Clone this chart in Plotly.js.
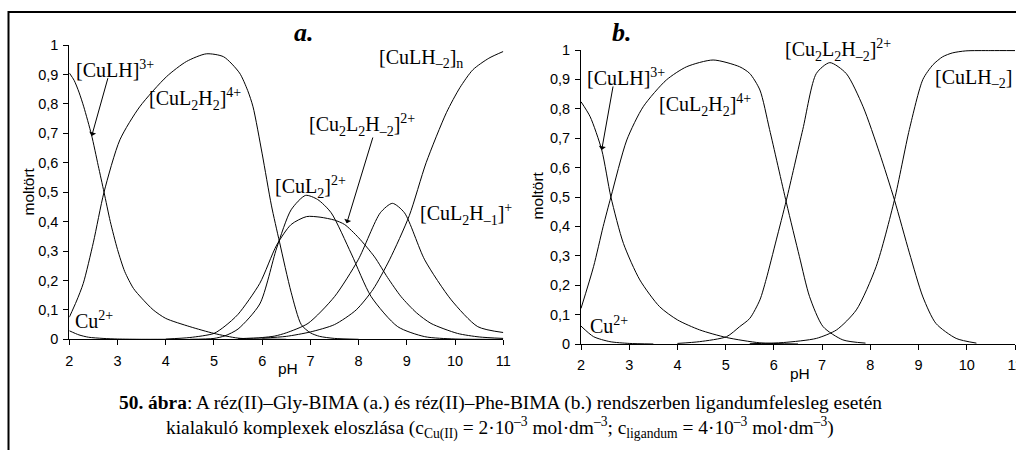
<!DOCTYPE html>
<html>
<head>
<meta charset="utf-8">
<script src="https://cdn.plot.ly/plotly-3.0.1.min.js"></script>
<style>html,body{margin:0;padding:0;background:#fff;}#chart{width:1016px;height:450px;}</style>
</head>
<body>
<div id="chart"></div>
<script>
// ---------- data (a) réz(II)–Gly-BIMA ----------
const aCu_pH = [2, 2.2, 2.4, 2.7, 3.0, 3.5, 4];
const aCu_val = [0.029, 0.015, 0.007, 0.003, 0.001, 0, 0];
const aCuLH_pH = [2, 2.1, 2.2, 2.3, 2.46, 2.6, 2.72, 2.85, 3.0, 3.15, 3.33, 3.5, 3.74, 4.0, 4.5, 5.0, 5.5, 6.0, 6.5];
const aCuLH_val = [0.905, 0.88, 0.84, 0.79, 0.695, 0.59, 0.5, 0.4, 0.305, 0.23, 0.173, 0.14, 0.1, 0.071, 0.043, 0.02, 0.004, 0.001, 0];
const aCuL2H2_pH = [2, 2.15, 2.29, 2.5, 2.72, 3.05, 3.46, 4.02, 4.43, 4.84, 5.2, 5.53, 5.7, 5.81, 6.0, 6.19, 6.36, 6.6, 6.81, 7.0, 7.19, 7.5, 8];
const aCuL2H2_val = [0.075, 0.13, 0.19, 0.33, 0.5, 0.678, 0.79, 0.893, 0.944, 0.97, 0.96, 0.905, 0.845, 0.79, 0.63, 0.456, 0.33, 0.16, 0.05, 0.022, 0.01, 0.003, 0];
const aCuL2_pH = [4.5, 5.0, 5.23, 5.5, 5.95, 6.3, 6.6, 6.9, 7.15, 7.43, 7.85, 8.26, 8.81, 9.37, 10, 11];
const aCuL2_val = [0.0, 0.003, 0.012, 0.035, 0.12, 0.31, 0.44, 0.489, 0.475, 0.43, 0.29, 0.145, 0.043, 0.009, 0.001, 0];
const aCu2L2Hm2_pH = [4.0, 4.5, 5.0, 5.23, 5.5, 5.95, 6.3, 6.6, 6.92, 7.2, 7.5, 7.71, 8.0, 8.33, 8.6, 8.88, 9.2, 9.5, 10.05, 10.5, 11];
const aCu2L2Hm2_val = [0.001, 0.006, 0.02, 0.045, 0.085, 0.19, 0.32, 0.39, 0.417, 0.415, 0.405, 0.39, 0.345, 0.28, 0.21, 0.145, 0.09, 0.054, 0.02, 0.008, 0.003];
const aCuL2Hm1_pH = [5.5, 6.0, 6.26, 6.5, 6.95, 7.5, 7.99, 8.45, 8.7, 8.95, 9.37, 9.92, 10.47, 11];
const aCuL2Hm1_val = [0.002, 0.006, 0.011, 0.022, 0.054, 0.145, 0.27, 0.43, 0.462, 0.43, 0.27, 0.134, 0.043, 0.023];
const aCuLHm2_pH = [6.0, 6.5, 7.0, 7.5, 7.95, 8.3, 8.64, 9.05, 9.4, 9.82, 10.1, 10.37, 10.7, 11];
const aCuLHm2_val = [0.004, 0.01, 0.025, 0.05, 0.1, 0.17, 0.27, 0.42, 0.6, 0.77, 0.855, 0.916, 0.955, 0.978];

// ---------- data (b) réz(II)–Phe-BIMA ----------
const bCu_pH = [2, 2.26, 2.6, 3.0, 3.5];
const bCu_val = [0.061, 0.025, 0.008, 0.002, 0];
const bCuLH_pH = [2, 2.19, 2.43, 2.62, 2.88, 3.22, 3.63, 4.0, 4.46, 5.02, 5.71, 6.5];
const bCuLH_val = [0.824, 0.773, 0.66, 0.5, 0.342, 0.218, 0.127, 0.082, 0.048, 0.022, 0.004, 0];
const bCuL2H2_pH = [2, 2.26, 2.46, 2.62, 2.95, 3.29, 3.77, 4.19, 4.74, 5.29, 5.5, 5.71, 5.91, 6.26, 6.53, 6.74, 7.02, 7.43, 7.9];
const bCuL2H2_val = [0.121, 0.263, 0.4, 0.5, 0.694, 0.807, 0.898, 0.943, 0.966, 0.943, 0.92, 0.864, 0.73, 0.48, 0.297, 0.161, 0.059, 0.014, 0.003];
const bCu2L2Hm2_pH = [4.0, 4.46, 5.02, 5.29, 5.5, 5.71, 5.84, 6.05, 6.26, 6.6, 6.88, 7.16, 7.5, 7.85, 8.19, 8.5, 8.81, 9.09, 9.36, 9.78, 10.2];
const bCu2L2Hm2_val = [0.002, 0.008, 0.025, 0.059, 0.087, 0.15, 0.22, 0.354, 0.49, 0.73, 0.92, 0.957, 0.92, 0.807, 0.65, 0.49, 0.31, 0.16, 0.07, 0.019, 0.003];
const bCuLHm2_pH = [5.5, 6.2, 6.88, 7.3, 7.71, 8.12, 8.5, 8.81, 9.09, 9.3, 9.5, 9.7, 9.98, 10.5, 11];
const bCuLHm2_val = [0.001, 0.005, 0.019, 0.048, 0.116, 0.263, 0.49, 0.73, 0.9, 0.95, 0.977, 0.99, 0.997, 0.998, 0.998];

// ---------- tick labels ----------
const pHTicks = [2, 3, 4, 5, 6, 7, 8, 9, 10, 11];
const pHLabels = ['2', '3', '4', '5', '6', '7', '8', '9', '10', '11'];
const fracTicks = [0, 0.1, 0.2, 0.3, 0.4, 0.5, 0.6, 0.7, 0.8, 0.9, 1];
const fracLabels = ['0', '0,1', '0,2', '0,3', '0,4', '0,5', '0,6', '0,7', '0,8', '0,9', '1'];

// ---------- layout helpers ----------
const W = 1016, H = 450;
const px = v => v / W;
const py = v => 1 - v / H;
const serif = 'Liberation Serif, Times New Roman, serif';
const sans = 'Liberation Sans, Arial, sans-serif';

function line(x, y, xa, ya) {
  return {x: x, y: y, xaxis: xa, yaxis: ya, type: 'scatter', mode: 'lines',
    line: {color: '#000', width: 1, shape: 'spline', smoothing: 0.7},
    hoverinfo: 'skip', showlegend: false};
}

const traces = [
  line(aCu_pH, aCu_val, 'x', 'y'),
  line(aCuLH_pH, aCuLH_val, 'x', 'y'),
  line(aCuL2H2_pH, aCuL2H2_val, 'x', 'y'),
  line(aCuL2_pH, aCuL2_val, 'x', 'y'),
  line(aCu2L2Hm2_pH, aCu2L2Hm2_val, 'x', 'y'),
  line(aCuL2Hm1_pH, aCuL2Hm1_val, 'x', 'y'),
  line(aCuLHm2_pH, aCuLHm2_val, 'x', 'y'),
  line(bCu_pH, bCu_val, 'x2', 'y2'),
  line(bCuLH_pH, bCuLH_val, 'x2', 'y2'),
  line(bCuL2H2_pH, bCuL2H2_val, 'x2', 'y2'),
  line(bCu2L2Hm2_pH, bCu2L2Hm2_val, 'x2', 'y2'),
  line(bCuLHm2_pH, bCuLHm2_val, 'x2', 'y2')
];

function xAxis(d0, d1, anchor) {
  return {domain: [px(d0), px(d1)], range: [2, 11], anchor: anchor,
    showline: true, linecolor: '#000', linewidth: 1, mirror: false,
    ticks: 'outside', ticklen: 5, tickwidth: 1, tickcolor: '#000',
    tickvals: pHTicks, ticktext: pHLabels, ticklabelstandoff: 3,
    ticklabeloverflow: 'allow',
    showgrid: false, zeroline: false, fixedrange: true,
    tickfont: {family: sans, size: 14.5, color: '#000'}};
}
function yAxis(top, bottom, anchor) {
  return {domain: [1 - bottom / H, 1 - top / H], range: [0, 1], anchor: anchor,
    showline: true, linecolor: '#000', linewidth: 1,
    ticks: 'outside', ticklen: 5, tickwidth: 1, tickcolor: '#000',
    tickvals: fracTicks, ticktext: fracLabels, ticklabelstandoff: 2,
    showgrid: false, zeroline: false, fixedrange: true,
    tickfont: {family: sans, size: 14.5, color: '#000'}};
}

function lab(text, x, baseline, size) {
  size = size || 20;
  return {text: text, xref: 'paper', yref: 'paper', x: px(x), y: py(baseline - size * 0.32),
    xanchor: 'left', yanchor: 'middle', showarrow: false,
    font: {family: serif, size: size, color: '#000'}};
}
function arrow(tipX, tipY, tailX, tailY) {
  return {text: '', xref: 'paper', yref: 'paper', x: px(tipX), y: py(tipY),
    ax: tailX - tipX, ay: tailY - tipY, showarrow: true,
    arrowhead: 1, arrowsize: 1.2, arrowwidth: 1, arrowcolor: '#000'};
}

const annotations = [
  // panel titles
  {text: '<b><i>a.</i></b>', xref: 'paper', yref: 'paper', x: px(304), y: py(32), xanchor: 'center', yanchor: 'middle',
   showarrow: false, font: {family: serif, size: 26, color: '#000'}},
  {text: '<b><i>b.</i></b>', xref: 'paper', yref: 'paper', x: px(622), y: py(32), xanchor: 'center', yanchor: 'middle',
   showarrow: false, font: {family: serif, size: 26, color: '#000'}},
  // y titles
  {text: 'moltört', xref: 'paper', yref: 'paper', x: px(27.5), y: py(192), textangle: -90, xanchor: 'center', yanchor: 'middle',
   showarrow: false, font: {family: sans, size: 15.5, color: '#000'}},
  {text: 'moltört', xref: 'paper', yref: 'paper', x: px(537.5), y: py(196), textangle: -90, xanchor: 'center', yanchor: 'middle',
   showarrow: false, font: {family: sans, size: 15.5, color: '#000'}},
  // x titles
  {text: 'pH', xref: 'paper', yref: 'paper', x: px(288), y: py(368), xanchor: 'center', yanchor: 'middle',
   showarrow: false, font: {family: sans, size: 15.5, color: '#000'}},
  {text: 'pH', xref: 'paper', yref: 'paper', x: px(800), y: py(373), xanchor: 'center', yanchor: 'middle',
   showarrow: false, font: {family: sans, size: 15.5, color: '#000'}},
  // species labels (a)
  lab('[CuLH]<sup>3+</sup>', 74, 75),
  lab('[CuL<sub>2</sub>H<sub>2</sub>]<sup>4+</sup>', 146.7, 105),
  lab('[CuLH<sub>–2</sub>]<sub>n</sub>', 376.7, 65),
  lab('[Cu<sub>2</sub>L<sub>2</sub>H<sub>–2</sub>]<sup>2+</sup>', 306.7, 131.7),
  lab('[CuL<sub>2</sub>]<sup>2+</sup>', 273.3, 193),
  lab('[CuL<sub>2</sub>H<sub>–1</sub>]<sup>+</sup>', 418, 220),
  lab('Cu<sup>2+</sup>', 73.3, 326.7),
  // species labels (b)
  lab('[CuLH]<sup>3+</sup>', 585, 83.3),
  lab('[CuL<sub>2</sub>H<sub>2</sub>]<sup>4+</sup>', 656.7, 111.7),
  lab('[Cu<sub>2</sub>L<sub>2</sub>H<sub>–2</sub>]<sup>2+</sup>', 783.3, 56.7),
  lab('[CuLH<sub>–2</sub>]', 933.3, 85),
  lab('Cu<sup>2+</sup>', 588.3, 331.7),
  // arrows
  arrow(91.7, 136, 108.3, 76.7),
  arrow(346.7, 223.3, 373.3, 136),
  arrow(601.7, 150, 613.3, 85),
  // caption
  {text: '<b>50. ábra</b>: A réz(II)–Gly-BIMA (a.) és réz(II)–Phe-BIMA (b.) rendszerben ligandumfelesleg esetén',
   xref: 'paper', yref: 'paper', x: px(500), y: py(403), xanchor: 'center', yanchor: 'middle', showarrow: false,
   font: {family: serif, size: 19.4, color: '#000'}},
  {text: 'kialakuló komplexek eloszlása (c<sub>Cu(II)</sub> = 2·10<sup>–3</sup> mol·dm<sup>–3</sup>; c<sub>ligandum</sub> = 4·10<sup>–3</sup> mol·dm<sup>–3</sup>)',
   xref: 'paper', yref: 'paper', x: px(500), y: py(428), xanchor: 'center', yanchor: 'middle', showarrow: false,
   font: {family: serif, size: 19.4, color: '#000'}}
];

const shapes = [
  {type: 'line', xref: 'paper', yref: 'paper', x0: px(8.5), x1: 1.01, y0: py(12), y1: py(12), line: {color: '#000', width: 2}},
  {type: 'line', xref: 'paper', yref: 'paper', x0: px(8.5), x1: px(8.5), y0: py(11), y1: -0.01, line: {color: '#000', width: 2}}
];

const layout = {
  width: W, height: H, margin: {l: 0, r: 0, t: 0, b: 0},
  paper_bgcolor: '#fff', plot_bgcolor: 'rgba(0,0,0,0)',
  showlegend: false,
  xaxis: xAxis(69.3, 503.3, 'y'),
  yaxis: yAxis(45, 339.3, 'x'),
  xaxis2: xAxis(581, 1015, 'y2'),
  yaxis2: yAxis(50, 344, 'x2'),
  annotations: annotations,
  shapes: shapes,
  font: {family: sans, color: '#000'}
};

Plotly.newPlot('chart', traces, layout, {staticPlot: true, displayModeBar: false});
</script>
</body>
</html>
